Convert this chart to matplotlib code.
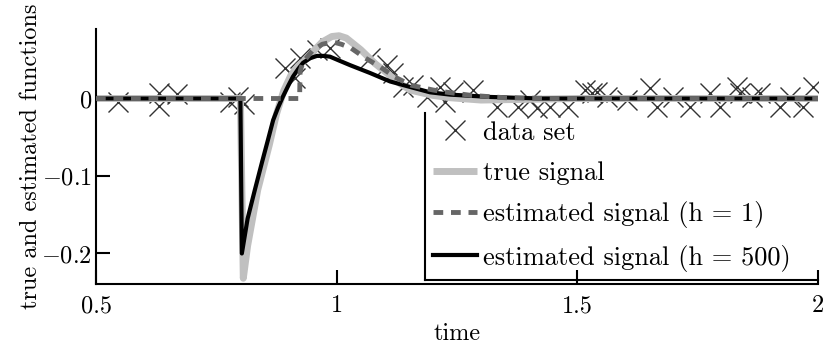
import matplotlib
matplotlib.use("Agg")
import matplotlib.pyplot as plt
from matplotlib.lines import Line2D

plt.rcParams['font.family'] = ['cmr10', 'DejaVu Serif']
plt.rcParams['mathtext.fontset'] = 'cm'
plt.rcParams['axes.unicode_minus'] = True

# ---- data ----
true_t = [0.5, 0.8, 0.806, 0.815, 0.836, 0.86, 0.875, 0.89, 0.905, 0.92, 0.935, 0.95,
          0.97, 0.99, 1.005, 1.02, 1.05, 1.08, 1.11, 1.13, 1.152, 1.2, 1.236, 1.3, 1.4, 1.5, 2.0]
true_v = [0.0, 0.0, -0.232, -0.19, -0.118, -0.06, -0.02, 0.01, 0.03, 0.042, 0.05, 0.06,
          0.073, 0.08, 0.081, 0.078, 0.063, 0.045, 0.03, 0.02, 0.011, 0.004, 0.001, -0.002, -0.001, 0.0, 0.0]

h1_t = [0.5, 0.923, 0.924, 0.93, 0.95, 0.97, 0.992, 1.01, 1.03, 1.06, 1.09, 1.12,
        1.155, 1.2, 1.23, 1.28, 1.35, 1.45, 2.0]
h1_v = [0.0, 0.0, 0.035, 0.047, 0.062, 0.07, 0.073, 0.07, 0.065, 0.052, 0.041, 0.028,
        0.017, 0.011, 0.008, 0.004, 0.001, 0.0, 0.0]

h500_t = [0.5, 0.8, 0.803, 0.815, 0.83, 0.845, 0.857, 0.868, 0.878, 0.888, 0.899, 0.909, 0.92,
          0.93, 0.945, 0.959, 0.972, 0.986, 1.005, 1.028, 1.069, 1.111, 1.152, 1.194, 1.236,
          1.319, 1.42, 2.0]
h500_v = [0.0, 0.0, -0.2, -0.155, -0.118, -0.082, -0.054, -0.028, -0.012, 0.002, 0.016, 0.028,
          0.038, 0.046, 0.052, 0.055, 0.055, 0.054, 0.049, 0.043, 0.033, 0.022, 0.015, 0.008,
          0.005, 0.002, 0.0, 0.0]

data_t = [0.546, 0.631, 0.631, 0.668, 0.778, 0.795, 0.807, 0.893, 0.913, 0.924, 0.959, 0.986,
          1.069, 1.105, 1.117, 1.138, 1.159, 1.188, 1.215, 1.225, 1.242, 1.283, 1.333, 1.377,
          1.402, 1.416, 1.443, 1.481, 1.516, 1.531, 1.541, 1.562, 1.603, 1.651, 1.666, 1.699,
          1.734, 1.776, 1.796, 1.832, 1.838, 1.863, 1.880, 1.921, 1.942, 1.969, 1.989]
data_v = [-0.0045, 0.0071, -0.0097, 0.0058, -0.0045, 0.0019, -0.0071, 0.039, 0.026, 0.052, 0.063, 0.065,
          0.052, 0.043, 0.033, 0.015, 0.017, 0.0019, 0.015, -0.0045, 0.0084, 0.011, -0.011, -0.011,
          -0.0019, -0.0123, -0.011, -0.011, 0.0110, 0.0071, 0.0084, 0.0019, -0.0019, 0.0135, -0.011, 0.0019,
          -0.011, 0.0071, -0.011, 0.0148, 0.0071, 0.0019, 0.0071, -0.011, 0.0019, -0.011, 0.0148]

xticks = [0.5, 1.0, 1.5, 2.0]
xticklabels = ['0.5', '1', '1.5', '2']
yticks = [-0.2, -0.1, 0.0]
yticklabels = ['$-0.2$', '$-0.1$', '$0$']

W, H = 823, 345
fig = plt.figure(figsize=(W / 100, H / 100), dpi=100)
ax = fig.add_axes([96 / W, 1 - 284 / H, (818 - 96) / W, (284 - 29) / H])

ax.plot(data_t, data_v, linestyle='none', marker='x', markersize=15, markeredgewidth=1.0,
        color='#333333', label='data set', zorder=1)
ax.plot(true_t, true_v, color='#c0c0c0', lw=5, solid_capstyle='butt', label='true signal', zorder=2)
ax.plot(h500_t, h500_v, color='black', lw=3, label='estimated signal (h = 500)', zorder=3)
ax.plot(h1_t, h1_v, color='#666666', lw=3.5, linestyle=(0, (2.0, 1.6)), dash_capstyle='butt',
        label='estimated signal (h = 1)', zorder=4)

ax.set_xlim(0.5, 2.0)
ax.set_ylim(-0.2394, 0.0897)
ax.set_xticks(xticks)
ax.set_xticklabels(xticklabels)
ax.set_yticks(yticks)
ax.set_yticklabels(yticklabels)
ax.tick_params(direction='in', length=10, width=1.5, labelsize=17.5)
ax.tick_params(axis='x', pad=8)
ax.tick_params(axis='y', pad=3)
for s in ['top', 'right']:
    ax.spines[s].set_visible(False)
for s in ['left', 'bottom']:
    ax.spines[s].set_linewidth(1.5)
ax.set_xlabel('time', fontsize=17.5, labelpad=4)
ax.set_ylabel('true and estimated functions', fontsize=17.5, labelpad=-1)

handles, labels = ax.get_legend_handles_labels()
order = [labels.index(l) for l in ['data set', 'true signal', 'estimated signal (h = 1)',
                                   'estimated signal (h = 500)']]
leg = fig.legend([handles[i] for i in order], [labels[i] for i in order],
                 loc='upper left', bbox_to_anchor=(433 / W, 1 - 121 / H),
                 bbox_transform=fig.transFigure, frameon=False, borderpad=0, borderaxespad=0,
                 handlelength=1.66, handletextpad=0.24, labelspacing=0.62,
                 fontsize=19)

# legend box edges (left and bottom only)
fig.add_artist(Line2D([425 / W, 425 / W], [1 - 113 / H, 1 - 280 / H], color='black', lw=1.5,
                      transform=fig.transFigure))
fig.add_artist(Line2D([425 / W, 818 / W], [1 - 280 / H, 1 - 280 / H], color='black', lw=1.5,
                      transform=fig.transFigure))

fig.savefig('out.png', dpi=100)
